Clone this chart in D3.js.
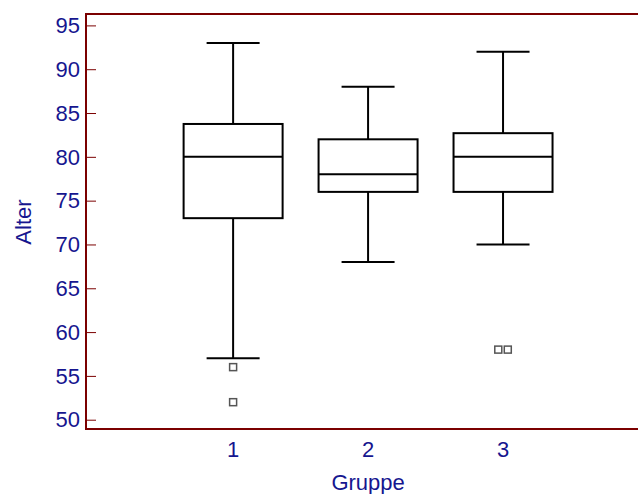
<!DOCTYPE html>
<html>
<head>
<meta charset="utf-8">
<script src="https://cdn.jsdelivr.net/npm/d3@7"></script>
<style>
  body { margin: 0; background: #fff; }
  svg { display: block; }
  text { font-family: "Liberation Sans", Arial, sans-serif; }
</style>
</head>
<body>
<svg id="chart" width="638" height="494"></svg>
<script>
// box plot data
const groups = [1, 2, 3];
const whiskerLow = [57, 68, 70];
const q1 = [73, 76, 76];
const medians = [80, 78, 80];
const q3 = [83.75, 82, 82.7];
const whiskerHigh = [93, 88, 92];

const outlierGroup = [1, 1, 3, 3];
const outlierValue = [56, 52, 58, 58];

const yTicks = [50, 55, 60, 65, 70, 75, 80, 85, 90, 95];

const svg = d3.select("#chart");
const axisColor = "#7b0000";
const textColor = "#16168f";

const plotLeft = 86, plotTop = 14, plotBottom = 429, plotRight = 640;

const x = d3.scaleLinear().domain([-0.09, 4]).range([plotLeft, 638]);
const y = d3.scaleLinear().domain([48.94, 96.3]).range([plotBottom, plotTop]);

// frame
svg.append("rect")
    .attr("x", plotLeft).attr("y", plotTop)
    .attr("width", plotRight - plotLeft).attr("height", plotBottom - plotTop)
    .attr("fill", "none")
    .attr("stroke", axisColor)
    .attr("stroke-width", 2);

// y axis ticks pointing inward
const yAxis = svg.append("g")
    .attr("transform", `translate(${plotLeft},0)`)
    .call(d3.axisRight(y).tickValues(yTicks).tickSize(10).tickFormat(""));
yAxis.select(".domain").remove();
yAxis.selectAll("line").attr("stroke", axisColor).attr("stroke-width", 1);

svg.append("g").selectAll("text")
    .data(yTicks)
    .enter().append("text")
    .attr("x", plotLeft - 6)
    .attr("y", d => y(d))
    .attr("dy", "0.35em")
    .attr("text-anchor", "end")
    .attr("font-size", 22)
    .attr("fill", textColor)
    .text(d => d);

// x tick labels
svg.append("g").selectAll("text")
    .data(groups)
    .enter().append("text")
    .attr("x", d => x(d))
    .attr("y", 457)
    .attr("text-anchor", "middle")
    .attr("font-size", 22)
    .attr("fill", textColor)
    .text(d => d);

// axis titles
svg.append("text")
    .attr("x", x(2))
    .attr("y", 490)
    .attr("text-anchor", "middle")
    .attr("font-size", 22)
    .attr("fill", textColor)
    .text("Gruppe");

svg.append("text")
    .attr("transform", `translate(31,222) rotate(-90)`)
    .attr("text-anchor", "middle")
    .attr("font-size", 22)
    .attr("fill", textColor)
    .text("Alter");

// boxes
const boxW = 99, capW = 53;
const data = groups.map((g, i) => ({
    g: g, lo: whiskerLow[i], q1: q1[i], med: medians[i], q3: q3[i], hi: whiskerHigh[i]
}));

const box = svg.append("g").selectAll("g")
    .data(data)
    .enter().append("g")
    .attr("stroke", "#000")
    .attr("stroke-width", 2)
    .attr("fill", "none");

box.append("line")
    .attr("x1", d => x(d.g)).attr("x2", d => x(d.g))
    .attr("y1", d => y(d.hi)).attr("y2", d => y(d.q3));
box.append("line")
    .attr("x1", d => x(d.g)).attr("x2", d => x(d.g))
    .attr("y1", d => y(d.q1)).attr("y2", d => y(d.lo));
box.append("line")
    .attr("x1", d => x(d.g) - capW / 2).attr("x2", d => x(d.g) + capW / 2)
    .attr("y1", d => y(d.hi)).attr("y2", d => y(d.hi));
box.append("line")
    .attr("x1", d => x(d.g) - capW / 2).attr("x2", d => x(d.g) + capW / 2)
    .attr("y1", d => y(d.lo)).attr("y2", d => y(d.lo));
box.append("rect")
    .attr("x", d => x(d.g) - boxW / 2)
    .attr("y", d => y(d.q3))
    .attr("width", boxW)
    .attr("height", d => y(d.q1) - y(d.q3))
    .attr("fill", "#fff");
box.append("line")
    .attr("x1", d => x(d.g) - boxW / 2).attr("x2", d => x(d.g) + boxW / 2)
    .attr("y1", d => y(d.med)).attr("y2", d => y(d.med));

// outliers, identical values in a group get spread side by side
const outliers = outlierGroup.map((g, i) => ({ g: g, v: outlierValue[i] }));
outliers.forEach(o => {
    const same = outliers.filter(p => p.g === o.g && p.v === o.v);
    const k = same.indexOf(o);
    o.dx = (k - (same.length - 1) / 2) * 9.5;
});

svg.append("g").selectAll("rect")
    .data(outliers)
    .enter().append("rect")
    .attr("x", d => x(d.g) + d.dx - 3.5)
    .attr("y", d => y(d.v) - 3.5)
    .attr("width", 7)
    .attr("height", 7)
    .attr("fill", "#fff")
    .attr("stroke", "#555")
    .attr("stroke-width", 1.5);
</script>
</body>
</html>
